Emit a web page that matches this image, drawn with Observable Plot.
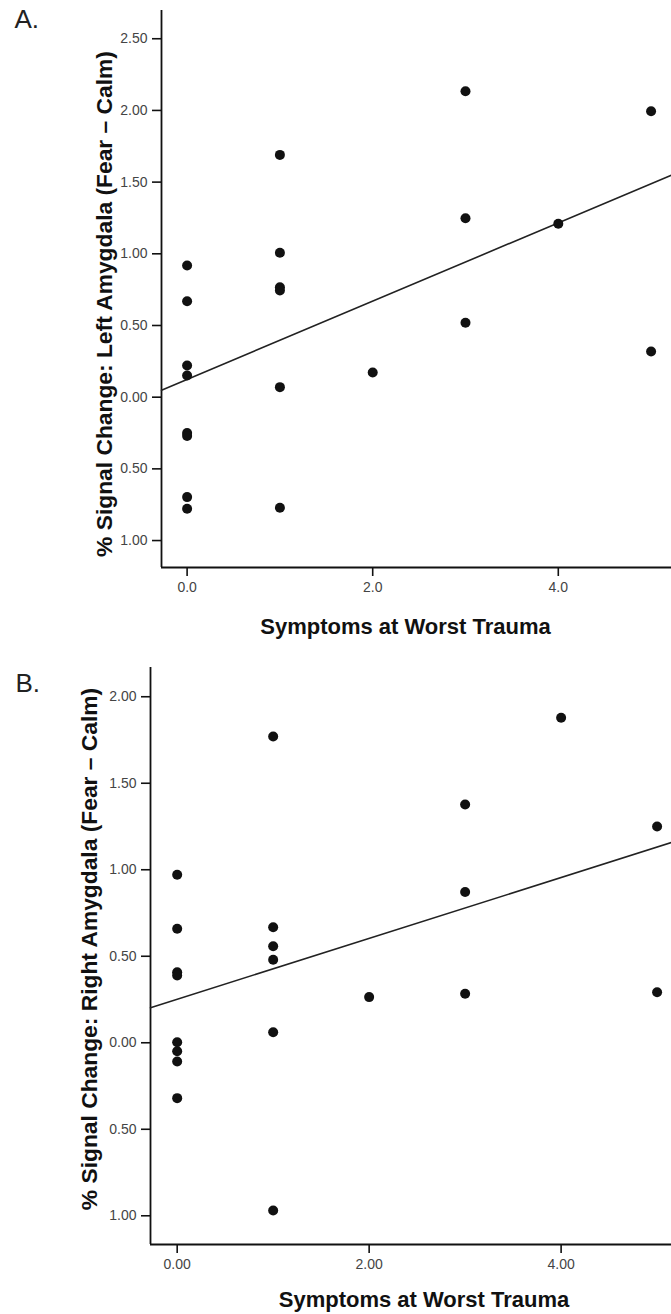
<!DOCTYPE html>
<html>
<head>
<meta charset="utf-8">
<script src="https://cdn.jsdelivr.net/npm/d3@7"></script>
<script src="https://cdn.jsdelivr.net/npm/@observablehq/plot@0.6"></script>
<style>
  html, body { margin: 0; padding: 0; background: #fff; }
  #chart { width: 671px; }
  #chart svg { display: block; }
</style>
</head>
<body>
<div id="chart"></div>
<script>
// ---- Data ----
const panelLabels = ["A.", "B."];
const xTitle = "Symptoms at Worst Trauma";
const yTitleA = "% Signal Change: Left Amygdala (Fear – Calm)";
const yTitleB = "% Signal Change: Right Amygdala (Fear – Calm)";

// Panel A: symptoms (x) vs left amygdala signal change (y)
const symptomsA = [0,0,0,0,0,0,0,0, 1,1,1,1,1,1, 2, 3,3,3, 4, 5,5];
const leftAmygdala = [0.918,0.669,0.221,0.151,-0.25,-0.27,-0.697,-0.778,
                      1.690,1.007,0.767,0.744,0.070,-0.771,
                      0.172,
                      2.134,1.248,0.519,
                      1.209,
                      1.994,0.319];

// Panel B: symptoms (x) vs right amygdala signal change (y)
const symptomsB = [0,0,0,0,0,0,0,0, 1,1,1,1,1,1, 2, 3,3,3, 4, 5,5];
const rightAmygdala = [0.971,0.659,0.408,0.389,0.003,-0.049,-0.108,-0.320,
                       1.770,0.668,0.558,0.480,0.061,-0.969,
                       0.264,
                       1.377,0.871,0.283,
                       1.879,
                       1.250,0.292];

// Tick values
const xTicks = [0, 2, 4];
const yTicksA = [-1, -0.5, 0, 0.5, 1, 1.5, 2, 2.5];
const yTicksB = [-1, -0.5, 0, 0.5, 1, 1.5, 2];

// ---- helpers ----
function fit(xs, ys) {
  const mx = d3.mean(xs), my = d3.mean(ys);
  let sxy = 0, sxx = 0;
  xs.forEach((x, i) => { sxy += (x - mx) * (ys[i] - my); sxx += (x - mx) ** 2; });
  const b = sxy / sxx;
  return {a: my - b * mx, b};
}

const FONT = "'Liberation Sans', Arial, Helvetica, sans-serif";

function panel(cfg) {
  const data = cfg.xs.map((x, i) => ({x, y: cfg.ys[i]}));
  const {a, b} = fit(cfg.xs, cfg.ys);
  const fitLine = cfg.xDomain.map(x => ({x, y: a + b * x}));
  return Plot.plot({
    width: 671,
    height: cfg.height,
    marginLeft: cfg.marginLeft,
    marginRight: 0,
    marginTop: cfg.marginTop,
    marginBottom: cfg.marginBottom,
    style: {fontFamily: FONT, fontSize: "14px", color: "#111", background: "#fff"},
    x: {domain: cfg.xDomain},
    y: {domain: cfg.yDomain},
    marks: [
      Plot.axisX({ticks: xTicks, tickFormat: d3.format(cfg.xFmt), tickSize: 9, tickPadding: 6,
                  fontSize: 14, fill: "#444", stroke: "#111", strokeWidth: 1.6, label: null}),
      Plot.axisY({ticks: cfg.yTicks, tickFormat: d => d3.format(".2f")(Math.abs(d)), tickSize: 9, tickPadding: 5,
                  fontSize: 14, fill: "#444", stroke: "#111", strokeWidth: 1.6, label: null}),
      Plot.ruleX([cfg.xDomain[0]], {stroke: "#111", strokeWidth: 1.8}),
      Plot.ruleY([cfg.yDomain[0]], {stroke: "#111", strokeWidth: 1.8}),
      Plot.line(fitLine, {x: "x", y: "y", stroke: "#222", strokeWidth: 1.6}),
      Plot.dot(data, {x: "x", y: "y", r: 5, fill: "#111", stroke: "none"}),
      Plot.text([xTitle], {frameAnchor: "bottom", dx: cfg.xTitleDx, dy: cfg.xTitleDy,
                 fontSize: 22, fontWeight: "bold", fill: "#111", lineAnchor: "middle"}),
      Plot.text([cfg.yTitle], {frameAnchor: "left", rotate: -90, dx: cfg.yTitleDx, dy: cfg.yTitleDy,
                 fontSize: 22.8, fontWeight: "bold", fill: "#111", lineAnchor: "middle", textAnchor: "middle"}),
      Plot.text([cfg.label], {frameAnchor: "top-left", dx: cfg.labelDx, dy: cfg.labelDy,
                 fontSize: 26, fill: "#222", textAnchor: "start", lineAnchor: "top"})
    ]
  });
}

const chart = document.getElementById("chart");
chart.append(panel({
  xs: symptomsA, ys: leftAmygdala, label: panelLabels[0], yTitle: yTitleA,
  height: 645, marginLeft: 161, marginTop: 10, marginBottom: 78,
  xDomain: [-0.276, 5.22], yDomain: [-1.188, 2.697], yTicks: yTicksA, xFmt: ".1f",
  xTitleDx: -11, xTitleDy: 59, yTitleDx: -57, yTitleDy: 15, labelDx: -147, labelDy: -1
}));
chart.append(panel({
  xs: symptomsB, ys: rightAmygdala, label: panelLabels[1], yTitle: yTitleB,
  height: 669, marginLeft: 150, marginTop: 22, marginBottom: 70,
  xDomain: [-0.278, 5.15], yDomain: [-1.166, 2.169], yTicks: yTicksB, xFmt: ".2f",
  xTitleDx: 13, xTitleDy: 55, yTitleDx: -61, yTitleDy: -7, labelDx: -135, labelDy: 6
}));
</script>
</body>
</html>
